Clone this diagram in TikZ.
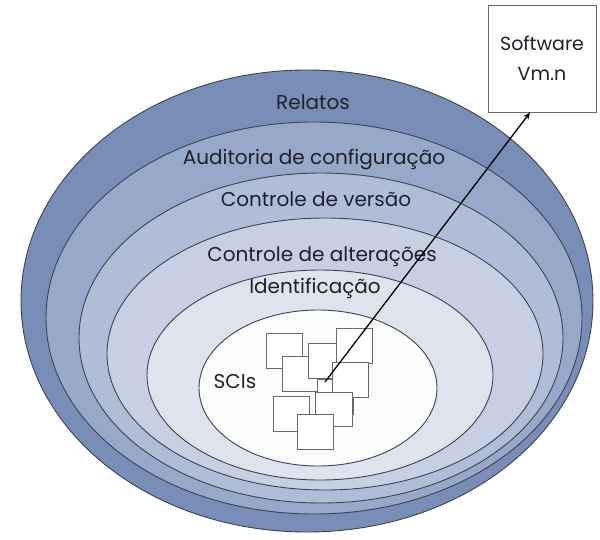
\documentclass[tikz,border=0pt]{standalone}
\usepackage{fontspec}
\setmainfont{Poppins}
\usetikzlibrary{arrows.meta,calc}
\definecolor{cAl}{RGB}{120,142,182}
\definecolor{cAd}{RGB}{86,106,148}
\definecolor{cBl}{RGB}{152,168,200}
\definecolor{cBd}{RGB}{120,138,176}
\definecolor{cCl}{RGB}{176,189,214}
\definecolor{cCd}{RGB}{146,161,193}
\definecolor{cDl}{RGB}{199,207,226}
\definecolor{cDd}{RGB}{171,182,208}
\definecolor{cEl}{RGB}{222,227,237}
\definecolor{cEd}{RGB}{196,204,222}
\definecolor{cFl}{RGB}{252,252,253}
\definecolor{cFd}{RGB}{236,238,243}
\definecolor{rim}{RGB}{58,66,86}
\definecolor{txt}{RGB}{30,32,44}
\definecolor{sq}{RGB}{105,105,105}
\pgfdeclareradialshading{bandA}{\pgfpoint{0bp}{0bp}}{color(0bp)=(cAl); color(36bp)=(cAl); color(50bp)=(cAd); color(72bp)=(cAd)}
\pgfdeclareradialshading{bandB}{\pgfpoint{0bp}{0bp}}{color(0bp)=(cBl); color(36bp)=(cBl); color(50bp)=(cBd); color(72bp)=(cBd)}
\pgfdeclareradialshading{bandC}{\pgfpoint{0bp}{0bp}}{color(0bp)=(cCl); color(36bp)=(cCl); color(50bp)=(cCd); color(72bp)=(cCd)}
\pgfdeclareradialshading{bandD}{\pgfpoint{0bp}{0bp}}{color(0bp)=(cDl); color(36bp)=(cDl); color(50bp)=(cDd); color(72bp)=(cDd)}
\pgfdeclareradialshading{bandE}{\pgfpoint{0bp}{0bp}}{color(0bp)=(cEl); color(34bp)=(cEl); color(50bp)=(cEd); color(72bp)=(cEd)}
\pgfdeclareradialshading{bandF}{\pgfpoint{0bp}{0bp}}{color(0bp)=(cFl); color(34bp)=(cFl); color(50bp)=(cFd); color(72bp)=(cFd)}
\tikzset{
  layer/.style={draw=rim, line width=0.9pt},
  lab/.style={text=txt, font=\fontsize{20}{22}\selectfont, inner sep=0pt},
  sci/.style={draw=sq, fill=white, line width=1.1pt, minimum width=36pt, minimum height=35pt, inner sep=0pt, anchor=north west},
  swbox/.style={draw=sq, fill=white, line width=1pt, minimum width=108pt, minimum height=107pt, align=center, text=txt, font=\fontsize{19}{30}\selectfont},
  link/.style={draw=black, line width=1.3pt, -{Stealth[length=7pt,width=6pt]}}
}
\begin{document}
\begin{tikzpicture}[x=1pt,y=-1pt]
\useasboundingbox (0,0) rectangle (600,539);
% nested layers
\shadedraw[layer, shading=bandA] (307,301) ellipse [x radius=286pt, y radius=231pt];
\shadedraw[layer, shading=bandB] (314,318) ellipse [x radius=268pt, y radius=196pt];
\shadedraw[layer, shading=bandC] (321,338) ellipse [x radius=242pt, y radius=165pt];
\shadedraw[layer, shading=bandD] (325,354) ellipse [x radius=218pt, y radius=136pt];
\shadedraw[layer, shading=bandE] (320,375) ellipse [x radius=173pt, y radius=105pt];
\shadedraw[layer, shading=bandF] (318,388) ellipse [x radius=119pt, y radius=78pt];
% labels
\node[lab] (relatos) at (313,102) {Relatos};
\node[lab] (audit) at (314,160) {Auditoria de configuração};
\node[lab] (versao) at (316,199) {Controle de versão};
\node[lab] (alter) at (322,257) {Controle de alterações};
\node[lab] (ident) at (315,288) {Identificação};
\node[lab] (scis) at (235,382) {SCIs};
% configuration items
\node[sci] (q1) at (266,333) {};
\node[sci] (q2) at (282,356) {};
\node[sci, minimum width=29pt] (q3) at (308,343) {};
\node[sci] (q4) at (336,328) {};
\node[sci] (qf) at (317,379) {};
\node[sci] (q5) at (332,362) {};
\node[sci, minimum width=37pt, minimum height=34pt] (q6) at (315,392) {};
\node[sci] (q7) at (273,396) {};
\node[sci] (q8) at (297,414) {};
% software box
\node[swbox] (sw) at (542,58.5) {Software\\Vm.n};
\coordinate (start) at ($(qf.north west)+(8,3)$);
\coordinate (tip) at ($(sw.south west)!0.39!(sw.south east)$);
\draw[link] (start) -- (tip);
\end{tikzpicture}
\end{document}
